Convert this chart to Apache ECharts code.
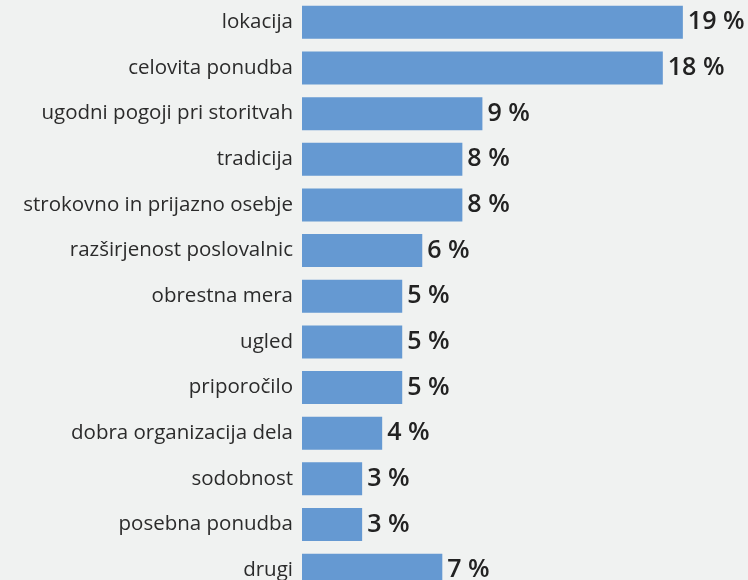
<!DOCTYPE html>
<html>
<head>
<meta charset="utf-8">
<script src="https://cdn.jsdelivr.net/npm/echarts@6/dist/echarts.min.js"></script>
<style>
  html, body { margin: 0; padding: 0; background: #f0f2f1; }
  #chart { width: 748px; height: 580px; }
</style>
</head>
<body>
<div id="chart"></div>
<script>
  // razlogi za izbiro banke
  const categories = [
    'lokacija', 'celovita ponudba', 'ugodni pogoji pri storitvah', 'tradicija',
    'strokovno in prijazno osebje', 'razširjenost poslovalnic', 'obrestna mera',
    'ugled', 'priporočilo', 'dobra organizacija dela', 'sodobnost',
    'posebna ponudba', 'drugi'
  ]
  const values = [19, 18, 9, 8, 8, 6, 5, 5, 5, 4, 3, 3, 7]

  const chart = echarts.init(document.getElementById('chart'))
  chart.setOption({
    backgroundColor: '#f0f2f1',
    animation: false,
    grid: {
      left: 302,
      width: 441,
      top: -0.5,
      height: 593.5,
      outerBoundsMode: 'none'
    },
    xAxis: {
      type: 'value',
      min: 0,
      max: 22,
      show: false
    },
    yAxis: {
      type: 'category',
      inverse: true,
      data: categories,
      axisLine: {show: false},
      axisTick: {show: false},
      axisLabel: {
        margin: 9,
        color: '#2b2b2b',
        fontSize: 20.5,
        fontFamily: 'Open Sans'
      }
    },
    series: [
      {
        type: 'bar',
        data: values,
        barWidth: 33,
        itemStyle: {color: '#6599d2'},
        label: {
          show: true,
          position: 'right',
          distance: 5,
          formatter: p => p.value + ' %',
          color: '#222222',
          fontSize: 25,
          fontWeight: 600,
          fontFamily: 'Open Sans'
        }
      }
    ]
  })
</script>
</body>
</html>
